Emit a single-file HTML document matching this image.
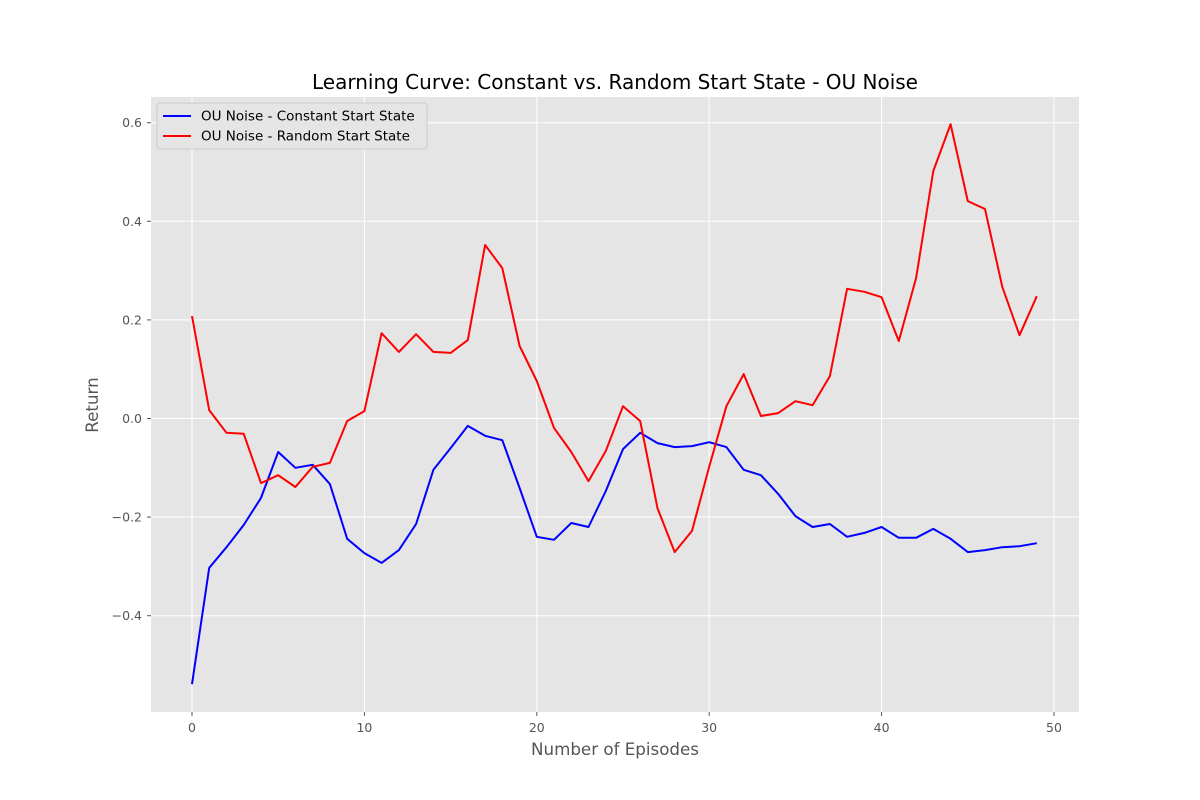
<!DOCTYPE html>
<html><head><meta charset="utf-8"><style>
html,body{margin:0;padding:0;background:#fff;}
svg{display:block;font-family:"DejaVu Sans","Liberation Sans",sans-serif;}
</style></head><body>
<svg id="chart" width="1200" height="800" viewBox="0 0 1200 800">
<rect x="0" y="0" width="1200" height="800" fill="#fff"/>
<rect x="151" y="97" width="928" height="615" fill="#e5e5e5"/>
<g id="grid"></g>
<g id="ticks"></g>
<g id="series"></g>
<text x="615" y="89" text-anchor="middle" font-size="20" fill="#000">Learning Curve: Constant vs. Random Start State - OU Noise</text>
<text x="615" y="755" text-anchor="middle" font-size="16.7" fill="#555">Number of Episodes</text>
<text x="98" y="405" text-anchor="middle" font-size="16.7" fill="#555" transform="rotate(-90 98 405)">Return</text>
<g>
<rect x="157" y="103" width="270" height="46" rx="3" fill="#e5e5e5" stroke="#ccc" stroke-width="1"/>
<g>
<line x1="163" y1="116" x2="191" y2="116" stroke="#0000ff" stroke-width="2"/>
<text x="201" y="120.5" font-size="13.5" fill="#000">OU Noise - Constant Start State</text></g>
<g>
<line x1="163" y1="136" x2="191" y2="136" stroke="#ff0000" stroke-width="2"/>
<text x="201" y="140.5" font-size="13.5" fill="#000">OU Noise - Random Start State</text></g>
</g>
</svg>
<script>
const xTicks = [0, 10, 20, 30, 40, 50];
const yTicks = [-0.4, -0.2, 0.0, 0.2, 0.4, 0.6];
const yTickLabels = ["\u22120.4", "\u22120.2", "0.0", "0.2", "0.4", "0.6"];
const constantStart = [-0.539,-0.303,-0.261,-0.216,-0.161,-0.068,-0.100,-0.094,-0.133,-0.244,-0.273,-0.293,-0.267,-0.214,-0.104,-0.060,-0.015,-0.035,-0.044,-0.141,-0.240,-0.246,-0.212,-0.220,-0.147,-0.062,-0.029,-0.050,-0.058,-0.056,-0.048,-0.058,-0.104,-0.115,-0.153,-0.198,-0.220,-0.214,-0.240,-0.232,-0.220,-0.242,-0.242,-0.224,-0.244,-0.271,-0.267,-0.261,-0.259,-0.253];
const randomStart = [0.208,0.017,-0.029,-0.031,-0.131,-0.115,-0.139,-0.098,-0.090,-0.005,0.015,0.173,0.135,0.171,0.135,0.133,0.159,0.352,0.305,0.147,0.076,-0.019,-0.068,-0.127,-0.066,0.025,-0.005,-0.182,-0.271,-0.228,-0.098,0.025,0.090,0.005,0.011,0.035,0.027,0.086,0.263,0.257,0.246,0.157,0.285,0.502,0.597,0.441,0.425,0.267,0.169,0.248];

const NS = "http://www.w3.org/2000/svg";
const xS = v => 192 + v * 17.24;
const yS = v => 418.5 - v * 493;
const grid = document.getElementById('grid');
const ticks = document.getElementById('ticks');
function mk(tag, attrs, parent){const e=document.createElementNS(NS,tag);for(const k in attrs)e.setAttribute(k,attrs[k]);parent.appendChild(e);return e;}
xTicks.forEach(t=>{
  const g = mk('line',{x1:xS(t),x2:xS(t),y1:97,y2:712,stroke:'#fff','stroke-width':1},grid);
  
  
  const tk = mk('line',{x1:xS(t),x2:xS(t),y1:712,y2:716,stroke:'#555'},ticks);
  
  
  const l = mk('text',{x:xS(t),y:732,'text-anchor':'middle','font-size':12.5,fill:'#555'},ticks);
  l.textContent = String(t);
  
  
});
yTicks.forEach((t,i)=>{
  const g = mk('line',{x1:151,x2:1079,y1:yS(t),y2:yS(t),stroke:'#fff','stroke-width':1},grid);
  
  
  const tk = mk('line',{x1:147,x2:151,y1:yS(t),y2:yS(t),stroke:'#555'},ticks);
  
  
  const l = mk('text',{x:142,y:yS(t)+4.5,'text-anchor':'end','font-size':12.5,fill:'#555'},ticks);
  l.textContent = yTickLabels[i];
  
  
});
const series = document.getElementById('series');
function line(data,color,name){
  const pts = data.map((v,i)=>xS(i).toFixed(1)+','+yS(v).toFixed(1)).join(' ');
  const p = mk('polyline',{points:pts,fill:'none',stroke:color,'stroke-width':2,'stroke-linejoin':'round'},series);
  
  
}
line(constantStart,'#0000ff','constant-start-line');
line(randomStart,'#ff0000','random-start-line');
</script>
</body></html>
